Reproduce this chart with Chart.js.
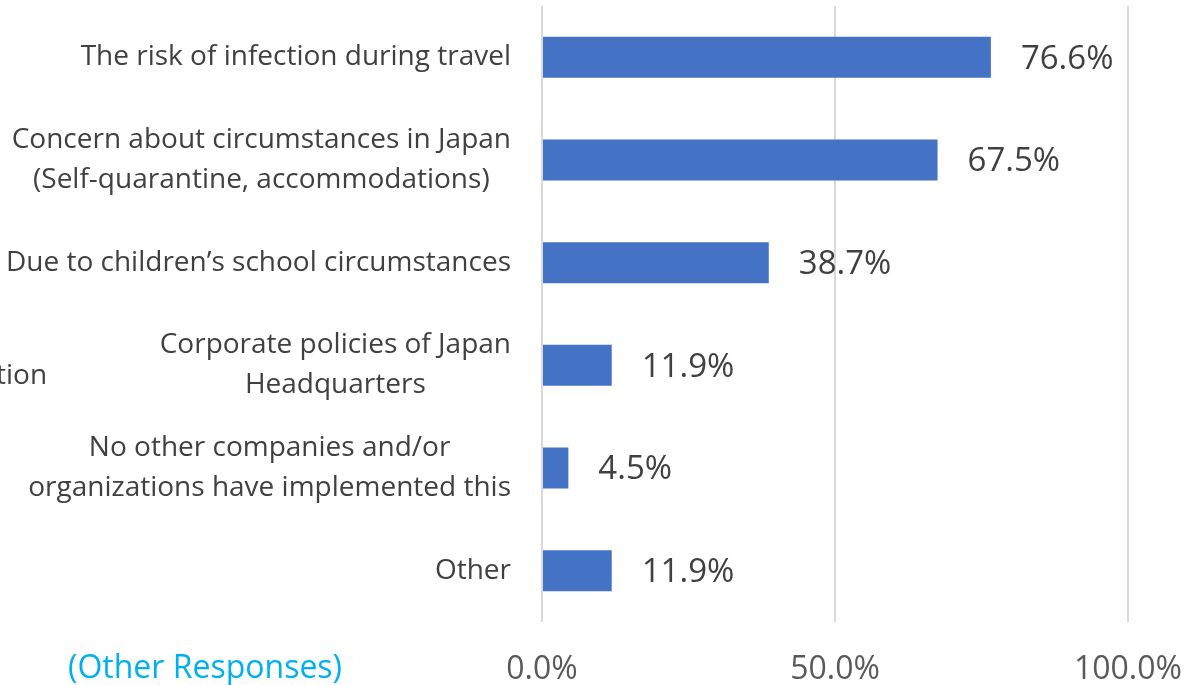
<!DOCTYPE html>
<html>
<head>
<meta charset="utf-8">
<script src="https://cdn.jsdelivr.net/npm/chart.js@4/dist/chart.umd.min.js"></script>
<style>
  html, body { margin: 0; padding: 0; background: #fff; }
  #wrap { width: 1186px; height: 685px; position: relative; }
</style>
</head>
<body>
<div id="wrap"><canvas id="chart"></canvas></div>
<script>
const categories = [
    ["The risk of infection during travel"],
    ["Concern about circumstances in Japan", "(Self-quarantine, accommodations)"],
    ["Due to children\u2019s school circumstances"],
    ["Corporate policies of Japan", "Headquarters"],
    ["No other companies and/or", "organizations have implemented this"],
    ["Other"]
];
const values = [76.6, 67.5, 38.7, 11.9, 4.5, 11.9];
const tickLabels = ["0.0%", "50.0%", "100.0%"];

const FONT = "'Open Sans', sans-serif";

// category text, data labels and loose captions
const textPlugin = {
    id: "texts",
    afterDatasetsDraw(chart) {
        let ctx = chart.ctx;
        let y = chart.scales.y;
        let meta = chart.getDatasetMeta(0);
        ctx.save();
        ctx.textBaseline = "middle";
        ctx.fillStyle = "#404040";
        ctx.font = "28px " + FONT;
        categories.forEach((lines, i) => {
            let cy = y.getPixelForValue(i);
            let w = Math.max(...lines.map(l => ctx.measureText(l).width));
            let right = chart.chartArea.left - 31;
            let cx = right - w / 2;
            ctx.textAlign = "center";
            lines.forEach((l, k) => {
                let ly = cy + (k - (lines.length - 1) / 2) * 40;
                ctx.fillText(l, cx, ly);
            });
        });
        ctx.font = "33px " + FONT;
        ctx.textAlign = "left";
        meta.data.forEach((bar, i) => {
            ctx.fillText(values[i].toFixed(1) + "%", bar.x + 30, bar.y + 2);
        });
        ctx.font = "28px " + FONT;
        ctx.fillText("tion", -4, 376);
        ctx.fillStyle = "#00B0F0";
        ctx.font = "32px " + FONT;
        ctx.fillText("(Other Responses)", 68, 669);
        ctx.restore();
    }
};

new Chart(document.getElementById("chart"), {
    type: "bar",
    data: {
        labels: categories,
        datasets: [{
            data: values,
            backgroundColor: "#4472C4",
            barPercentage: 0.8,
            categoryPercentage: 0.5
        }]
    },
    options: {
        indexAxis: "y",
        responsive: true,
        maintainAspectRatio: false,
        animation: false,
        layout: { padding: { left: 542, right: 58, top: 6, bottom: 0 } },
        plugins: { legend: { display: false }, tooltip: { enabled: false } },
        scales: {
            x: {
                min: 0,
                max: 100,
                afterBuildTicks: axis => {
                    axis.ticks = [0, 50, 100].map(v => ({ value: v }));
                },
                afterFit: axis => {
                    axis.height = 63;
                    axis.paddingLeft = 0;
                    axis.paddingRight = 0;
                },
                ticks: {
                    padding: 29,
                    maxRotation: 0,
                    color: "#595959",
                    font: { size: 32, family: FONT },
                    callback: (v, i) => tickLabels[i]
                },
                grid: { color: "#d9d9d9", lineWidth: 2, drawTicks: false },
                border: { display: false }
            },
            y: {
                display: false
            }
        }
    },
    plugins: [textPlugin]
});
</script>
</body>
</html>
